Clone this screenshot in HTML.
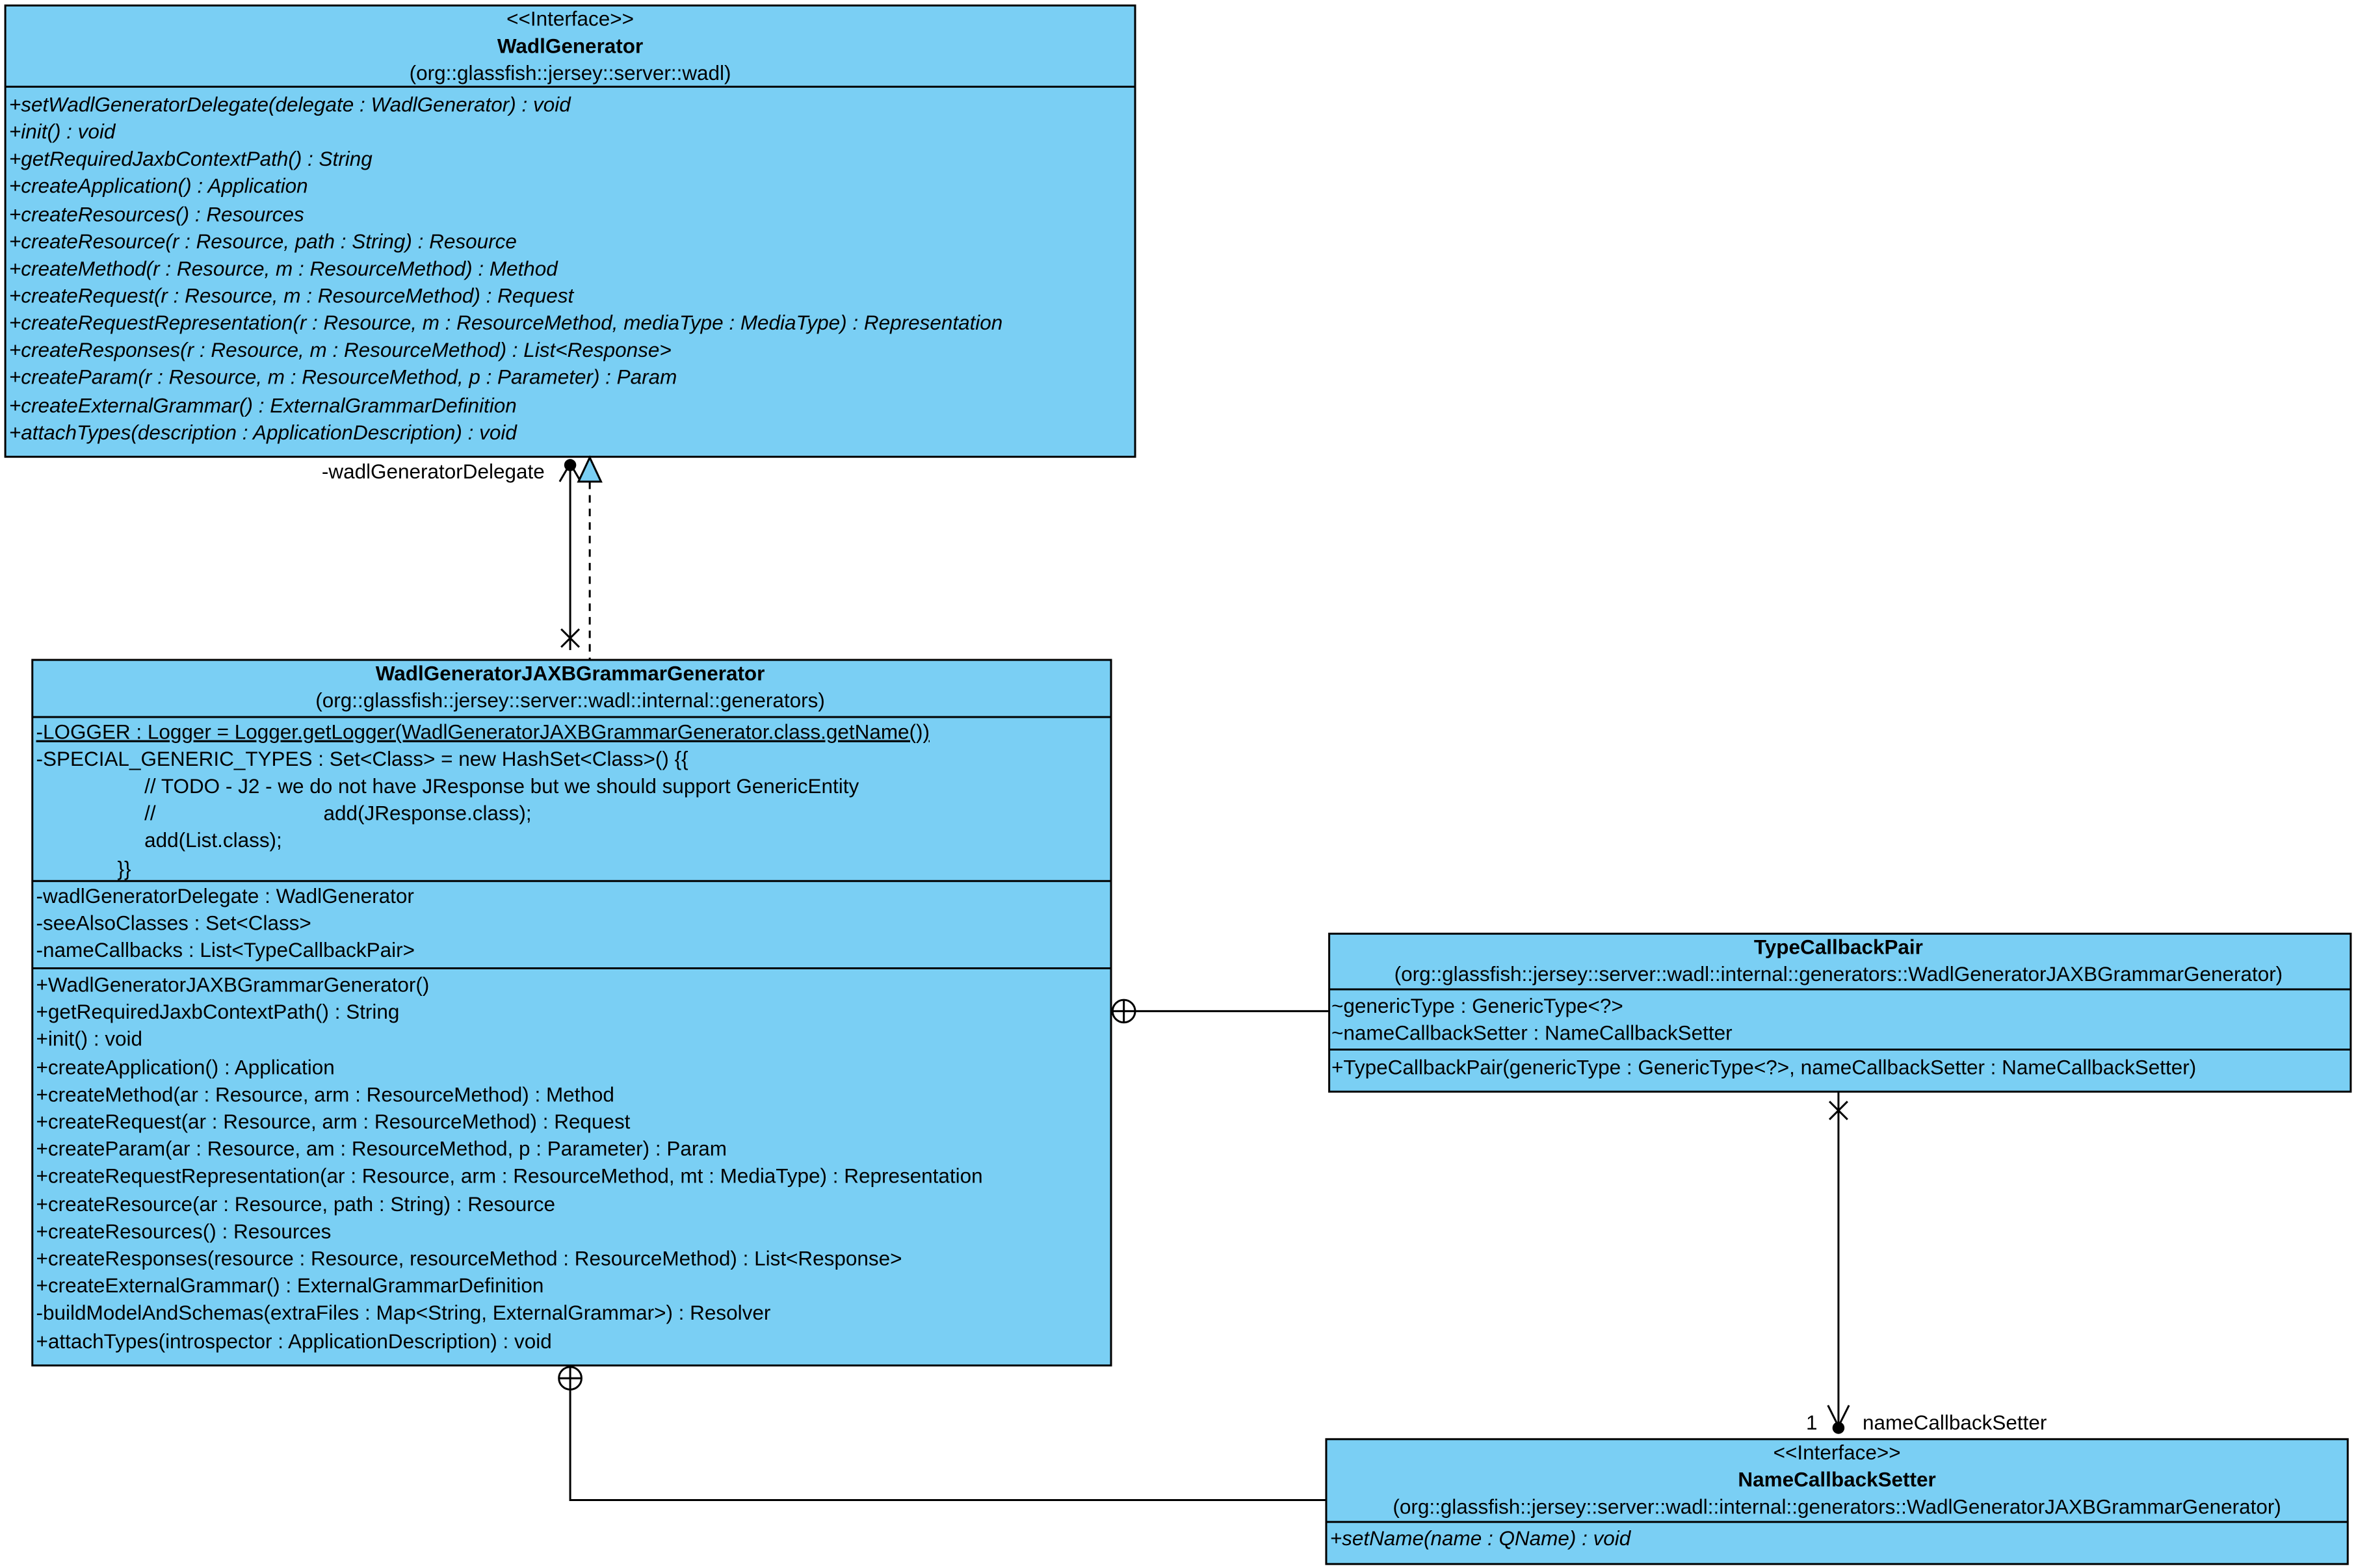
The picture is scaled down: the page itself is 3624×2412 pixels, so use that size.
<!DOCTYPE html>
<html><head><meta charset="utf-8"><style>html,body{margin:0;padding:0;background:#fff}svg{display:block}</style></head><body>
<svg xmlns="http://www.w3.org/2000/svg" width="3624" height="2412" viewBox="0 0 1566 1042" font-family="Liberation Sans, sans-serif" font-size="13.6">
<rect width="1566" height="1042" fill="#fff"/>
<g fill="#7acff4" stroke="#000" stroke-width="1.3">
<rect x="3.5" y="3.5" width="751" height="300"/>
<rect x="21.5" y="438.5" width="717" height="469"/>
<rect x="883.5" y="620.5" width="679" height="105"/>
<rect x="881.5" y="956.5" width="679" height="83"/>
</g>
<g stroke="#000" stroke-width="1.3">
<line x1="3" y1="57.5" x2="755" y2="57.5"/>
<line x1="21" y1="476.5" x2="739" y2="476.5"/>
<line x1="21" y1="585.5" x2="739" y2="585.5"/>
<line x1="21" y1="643.5" x2="739" y2="643.5"/>
<line x1="883" y1="657.5" x2="1563" y2="657.5"/>
<line x1="883" y1="697.5" x2="1563" y2="697.5"/>
<line x1="881" y1="1011.5" x2="1561" y2="1011.5"/>
</g>
<g fill="#000">
<text x="379" y="17" text-anchor="middle">&lt;&lt;Interface&gt;&gt;</text>
<text x="379" y="35" text-anchor="middle" font-weight="bold">WadlGenerator</text>
<text x="379" y="53" text-anchor="middle">(org::glassfish::jersey::server::wadl)</text>
<g font-style="italic">
<text x="6" y="74">+setWadlGeneratorDelegate(delegate : WadlGenerator) : void</text>
<text x="6" y="92">+init() : void</text>
<text x="6" y="110">+getRequiredJaxbContextPath() : String</text>
<text x="6" y="128">+createApplication() : Application</text>
<text x="6" y="147">+createResources() : Resources</text>
<text x="6" y="165">+createResource(r : Resource, path : String) : Resource</text>
<text x="6" y="183">+createMethod(r : Resource, m : ResourceMethod) : Method</text>
<text x="6" y="201">+createRequest(r : Resource, m : ResourceMethod) : Request</text>
<text x="6" y="219">+createRequestRepresentation(r : Resource, m : ResourceMethod, mediaType : MediaType) : Representation</text>
<text x="6" y="237">+createResponses(r : Resource, m : ResourceMethod) : List&lt;Response&gt;</text>
<text x="6" y="255">+createParam(r : Resource, m : ResourceMethod, p : Parameter) : Param</text>
<text x="6" y="274">+createExternalGrammar() : ExternalGrammarDefinition</text>
<text x="6" y="292">+attachTypes(description : ApplicationDescription) : void</text>
</g>
<text x="379" y="452" text-anchor="middle" font-weight="bold">WadlGeneratorJAXBGrammarGenerator</text>
<text x="379" y="470" text-anchor="middle">(org::glassfish::jersey::server::wadl::internal::generators)</text>
<text x="24" y="491" text-decoration="underline">-LOGGER : Logger = Logger.getLogger(WadlGeneratorJAXBGrammarGenerator.class.getName())</text>
<text x="24" y="509">-SPECIAL_GENERIC_TYPES : Set&lt;Class&gt; = new HashSet&lt;Class&gt;() {{</text>
<text x="96" y="527">// TODO - J2 - we do not have JResponse but we should support GenericEntity</text>
<text x="96" y="545">//</text><text x="215" y="545">add(JResponse.class);</text>
<text x="96" y="563">add(List.class);</text>
<text x="78" y="582">}}</text>
<text x="24" y="600">-wadlGeneratorDelegate : WadlGenerator</text>
<text x="24" y="618">-seeAlsoClasses : Set&lt;Class&gt;</text>
<text x="24" y="636">-nameCallbacks : List&lt;TypeCallbackPair&gt;</text>
<text x="24" y="659">+WadlGeneratorJAXBGrammarGenerator()</text>
<text x="24" y="677">+getRequiredJaxbContextPath() : String</text>
<text x="24" y="695">+init() : void</text>
<text x="24" y="714">+createApplication() : Application</text>
<text x="24" y="732">+createMethod(ar : Resource, arm : ResourceMethod) : Method</text>
<text x="24" y="750">+createRequest(ar : Resource, arm : ResourceMethod) : Request</text>
<text x="24" y="768">+createParam(ar : Resource, am : ResourceMethod, p : Parameter) : Param</text>
<text x="24" y="786">+createRequestRepresentation(ar : Resource, arm : ResourceMethod, mt : MediaType) : Representation</text>
<text x="24" y="805">+createResource(ar : Resource, path : String) : Resource</text>
<text x="24" y="823">+createResources() : Resources</text>
<text x="24" y="841">+createResponses(resource : Resource, resourceMethod : ResourceMethod) : List&lt;Response&gt;</text>
<text x="24" y="859">+createExternalGrammar() : ExternalGrammarDefinition</text>
<text x="24" y="877">-buildModelAndSchemas(extraFiles : Map&lt;String, ExternalGrammar&gt;) : Resolver</text>
<text x="24" y="896">+attachTypes(introspector : ApplicationDescription) : void</text>
<text x="1222" y="634" text-anchor="middle" font-weight="bold">TypeCallbackPair</text>
<text x="1222" y="652" text-anchor="middle">(org::glassfish::jersey::server::wadl::internal::generators::WadlGeneratorJAXBGrammarGenerator)</text>
<text x="885" y="673">~genericType : GenericType&lt;?&gt;</text>
<text x="885" y="691">~nameCallbackSetter : NameCallbackSetter</text>
<text x="885" y="714">+TypeCallbackPair(genericType : GenericType&lt;?&gt;, nameCallbackSetter : NameCallbackSetter)</text>
<text x="1221" y="970" text-anchor="middle">&lt;&lt;Interface&gt;&gt;</text>
<text x="1221" y="988" text-anchor="middle" font-weight="bold">NameCallbackSetter</text>
<text x="1221" y="1006" text-anchor="middle">(org::glassfish::jersey::server::wadl::internal::generators::WadlGeneratorJAXBGrammarGenerator)</text>
<text x="884" y="1027" font-style="italic">+setName(name : QName) : void</text>
<text x="362" y="318" text-anchor="end">-wadlGeneratorDelegate</text>
<text x="1208" y="950" text-anchor="end">1</text>
<text x="1238" y="950">nameCallbackSetter</text>
</g>
<g stroke="#000" stroke-width="1.3" fill="none">
<line x1="379" y1="310" x2="379" y2="432"/>
<polyline points="372,320 379,308 386,320"/>
<line x1="373" y1="418" x2="385" y2="430"/><line x1="385" y1="418" x2="373" y2="430"/>
<line x1="392" y1="320" x2="392" y2="438" stroke-dasharray="5,4"/>
<polygon points="392,304 384.5,320 399.5,320" fill="#7acff4"/>
<circle cx="747" cy="672" r="7.5"/><line x1="739.5" y1="672" x2="754.5" y2="672"/><line x1="747" y1="664.5" x2="747" y2="679.5"/>
<line x1="754.5" y1="672" x2="883" y2="672"/>
<circle cx="379" cy="916" r="7.5"/><line x1="371.5" y1="916" x2="386.5" y2="916"/><line x1="379" y1="908.5" x2="379" y2="923.5"/>
<polyline points="379,923.5 379,997 881,997"/>
<line x1="1222" y1="726" x2="1222" y2="950"/>
<line x1="1216" y1="732" x2="1228" y2="744"/><line x1="1228" y1="732" x2="1216" y2="744"/>
<polyline points="1215,934 1222,948 1229,934"/>
</g>
<circle cx="379" cy="309" r="4" fill="#000"/>
<circle cx="1222" cy="949" r="4" fill="#000"/>
</svg>
</body></html>
